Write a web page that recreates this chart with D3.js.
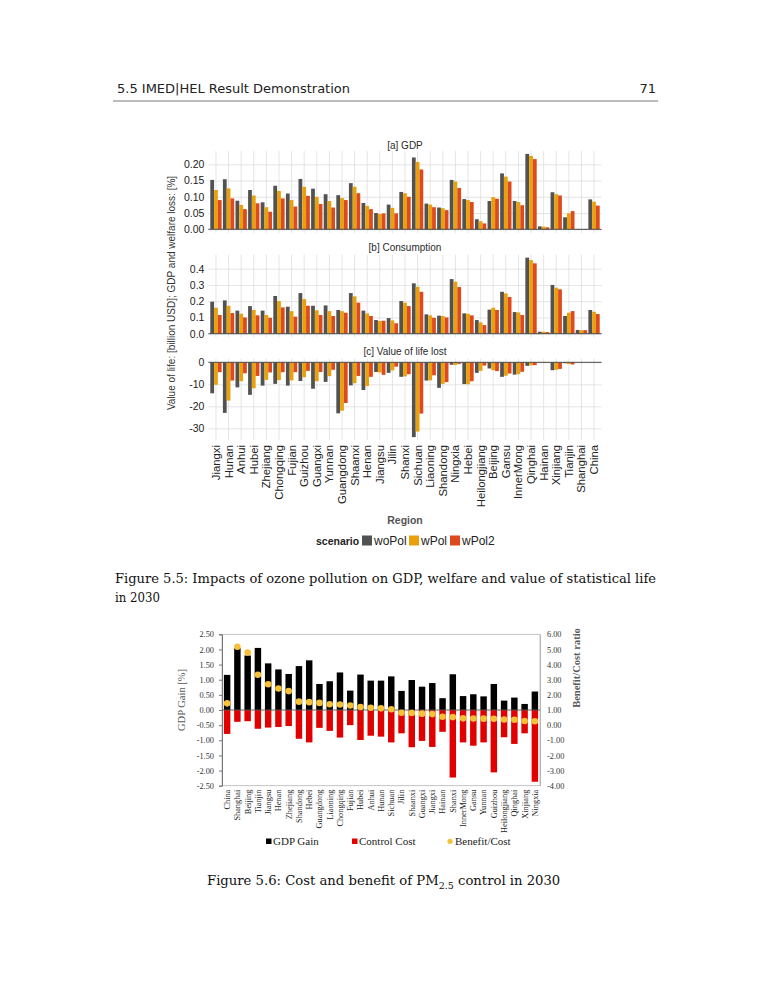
<!DOCTYPE html>
<html lang="en">
<head>
<meta charset="UTF-8">
<title>ozone and pm25 figures</title>
<script src="https://d3js.org/d3.v7.min.js"></script>
<style>
    body{margin:0;background:#fff;}
    svg{display:block;}
</style>
</head>
<body>
<svg id="page" width="773" height="1000"></svg>
<script>
    // ---------- figure 5.5 data (ggplot facets)
    let regions = ["Jiangxi","Hunan","Anhui","Hubei","Zhejiang","Chongqing","Fujian","Guizhou","Guangxi","Yunnan",
        "Guangdong","Shaanxi","Henan","Jiangsu","Jilin","Shanxi","Sichuan","Liaoning","Shandong","Ningxia",
        "Hebei","Heilongjiang","Beijing","Gansu","InnerMong","Qinghai","Hainan","Xinjiang","Tianjin","Shanghai","China"]
    let scenarios = ["woPol","wPol","wPol2"]

    let gdp_woPol  = [0.152,0.154,0.088,0.121,0.083,0.134,0.110,0.155,0.125,0.108,0.105,0.142,0.081,0.050,0.076,0.115,0.221,0.079,0.067,0.152,0.093,0.031,0.087,0.172,0.087,0.232,0.009,0.114,0.037,0.001,0.092]
    let gdp_wPol   = [0.121,0.126,0.075,0.104,0.068,0.118,0.090,0.131,0.100,0.087,0.096,0.131,0.072,0.047,0.066,0.111,0.207,0.076,0.065,0.147,0.090,0.025,0.099,0.162,0.084,0.226,0.008,0.108,0.049,0.001,0.085]
    let gdp_wPol2  = [0.090,0.095,0.062,0.080,0.054,0.095,0.070,0.103,0.078,0.067,0.090,0.111,0.062,0.049,0.049,0.100,0.184,0.068,0.059,0.127,0.084,0.018,0.094,0.147,0.074,0.216,0.006,0.104,0.056,0.001,0.073]

    let cons_woPol = [0.197,0.205,0.142,0.170,0.142,0.232,0.166,0.250,0.172,0.174,0.146,0.250,0.142,0.084,0.096,0.201,0.310,0.119,0.111,0.336,0.125,0.084,0.148,0.258,0.133,0.468,0.012,0.300,0.109,0.023,0.146]
    let cons_wPol  = [0.160,0.172,0.123,0.146,0.115,0.201,0.139,0.213,0.144,0.139,0.139,0.230,0.125,0.078,0.082,0.191,0.289,0.113,0.109,0.320,0.123,0.070,0.160,0.248,0.131,0.453,0.012,0.283,0.129,0.022,0.135]
    let cons_wPol2 = [0.115,0.127,0.100,0.113,0.098,0.162,0.105,0.172,0.115,0.109,0.129,0.191,0.109,0.080,0.064,0.170,0.258,0.098,0.100,0.287,0.113,0.053,0.146,0.226,0.115,0.433,0.010,0.273,0.139,0.022,0.121]

    let vol_woPol  = [-14.1,-23.0,-11.4,-14.8,-10.6,-9.8,-10.6,-8.5,-12.0,-8.9,-23.2,-10.5,-12.6,-4.4,-4.8,-6.6,-34.0,-8.3,-11.6,-1.1,-9.9,-4.8,-2.8,-6.6,-5.6,-1.6,-0.1,-3.6,-0.4,0,0]
    let vol_wPol   = [-10.2,-17.4,-8.6,-11.8,-8.0,-8.1,-8.2,-6.8,-8.6,-6.3,-22.0,-9.5,-10.8,-4.6,-3.7,-6.4,-31.5,-8.2,-9.8,-1.2,-10.0,-3.9,-3.6,-6.1,-5.4,-1.4,-0.1,-3.4,-0.8,0,0]
    let vol_wPol2  = [-4.5,-8.3,-5.0,-6.2,-4.6,-4.5,-4.5,-3.9,-4.4,-3.4,-18.5,-6.2,-6.6,-5.7,-2.0,-5.4,-23.3,-5.9,-9.0,-0.7,-8.6,-1.5,-4.0,-5.1,-4.3,-1.3,-0.1,-3.0,-1.0,0,0]

    // ---------- figure 5.6 data (excel combo chart)
    let regions2 = ["China","Shanghai","Beijing","Tianjin","Jiangsu","Henan","Zhejiang","Shandong","Hebei","Guangdong",
        "Liaoning","Chongqing","Fujian","Hubei","Anhui","Hunan","Sichuan","Jilin","Shaanxi","Guangxi",
        "Jiangxi","Hainan","Shanxi","InnerMong","Gansu","Yunnan","Guizhou","Heilongjiang","Qinghai","Xinjiang","Ningxia"]
    let gdpGain     = [1.16,2.04,1.80,2.05,1.54,1.34,1.19,1.45,1.64,0.86,0.95,1.24,0.64,1.17,0.97,0.97,1.11,0.63,0.99,0.77,0.89,0.39,1.18,0.46,0.52,0.45,0.86,0.31,0.41,0.20,0.61]
    let controlCost = [-0.79,-0.39,-0.37,-0.62,-0.58,-0.56,-0.53,-0.95,-1.07,-0.59,-0.69,-0.91,-0.50,-0.99,-0.85,-0.88,-1.07,-0.77,-1.23,-1.02,-1.22,-0.72,-2.23,-1.07,-1.18,-1.07,-2.06,-0.90,-1.12,-0.77,-2.37]
    let benefitCost = [1.44,5.18,4.80,3.33,2.70,2.42,2.25,1.55,1.52,1.47,1.38,1.36,1.30,1.20,1.15,1.11,1.05,0.82,0.80,0.76,0.73,0.55,0.53,0.45,0.44,0.43,0.42,0.37,0.36,0.27,0.26]

    const svg = d3.select("#page")
    const SANS = "Liberation Sans, Arial, sans-serif"
    const SERIF = "Liberation Serif, Times New Roman, serif"
    const BOOK = "DejaVu Serif, serif"

    // ---------- page header
    svg.append("text").attr("x",117).attr("y",93)
        .attr("font-family","DejaVu Sans").attr("font-size",13).attr("fill","#222")
        .attr("textLength",233).attr("lengthAdjust","spacingAndGlyphs")
        .text("5.5 IMED|HEL Result Demonstration")
    svg.append("text").attr("x",656).attr("y",93).attr("text-anchor","end")
        .attr("font-family","DejaVu Sans").attr("font-size",13).attr("fill","#222").text("71")
    svg.append("line").attr("x1",113).attr("x2",658).attr("y1",101).attr("y2",101)
        .attr("stroke","#555").attr("stroke-width",0.8)

    // ================= figure 5.5 =================
    const L = 208.4, R = 601.6
    let x = d3.scaleBand().domain(regions).range([L, R]).paddingInner(0.1).paddingOuter(0.15)
    let xs = d3.scaleBand().domain(scenarios).range([0, x.bandwidth()])
    let color = d3.scaleOrdinal().domain(scenarios).range(["#525252","#e8a10c","#dc4a1d"])

    let panels = [
        {title:"[a] GDP", series:[gdp_woPol,gdp_wPol,gdp_wPol2], dom:[0,0.2], rng:[229.3,164.3],
            top:151, bottom:233, ticks:[0,0.05,0.1,0.15,0.2], fmt:d=>d.toFixed(2), titleY:145},
        {title:"[b] Consumption", series:[cons_woPol,cons_wPol,cons_wPol2], dom:[0,0.4], rng:[333.7,268.7],
            top:254.5, bottom:337.5, ticks:[0,0.1,0.2,0.3,0.4], fmt:d=>d.toFixed(1), titleY:247},
        {title:"[c] Value of life lost", series:[vol_woPol,vol_wPol,vol_wPol2], dom:[0,-30], rng:[362.3,428.3],
            top:358.5, bottom:440, ticks:[0,-10,-20,-30], fmt:d=>String(d), titleY:351}
    ]

    panels.forEach(function(p){
        let y = d3.scaleLinear().domain(p.dom).range(p.rng)
        let g = svg.append("g")
        // horizontal grid + tick labels
        g.append("g").attr("transform",`translate(${L},0)`)
            .call(d3.axisLeft(y).tickValues(p.ticks).tickSize(-(R-L)).tickPadding(4).tickFormat(p.fmt))
            .call(a=>a.select(".domain").remove())
            .call(a=>a.selectAll("line").attr("stroke","#dadada").attr("stroke-width",0.7))
            .call(a=>a.selectAll("text").attr("font-family",SANS).attr("font-size",10.5).attr("fill","#222"))
        // vertical grid
        g.append("g").attr("transform",`translate(0,${p.bottom})`)
            .call(d3.axisBottom(x).tickSize(-(p.bottom-p.top)).tickFormat(""))
            .call(a=>a.select(".domain").remove())
            .call(a=>a.selectAll("line").attr("stroke","#dadada").attr("stroke-width",0.7))
        // bars
        let rows = regions.flatMap((r,i)=>scenarios.map((s,j)=>({r:r, s:s, v:p.series[j][i]})))
        g.selectAll("rect.bar").data(rows).join("rect").attr("class","bar")
            .attr("x",d=>x(d.r)+xs(d.s))
            .attr("width",xs.bandwidth())
            .attr("y",d=>Math.min(y(d.v),y(0)))
            .attr("height",d=>Math.abs(y(d.v)-y(0)))
            .attr("fill",d=>color(d.s))
        // zero line
        g.append("line").attr("x1",L).attr("x2",R).attr("y1",y(0)).attr("y2",y(0))
            .attr("stroke","#4a4a4a").attr("stroke-width",1)
        // strip title
        g.append("text").attr("x",(L+R)/2).attr("y",p.titleY).attr("dy","0.35em")
            .attr("text-anchor","middle").attr("font-family",SANS).attr("font-size",10)
            .attr("fill","#2a2a2a").text(p.title)
    })

    // region labels
    svg.append("g").attr("transform","translate(0,441)")
        .call(d3.axisBottom(x).tickSize(0).tickPadding(0))
        .call(a=>a.select(".domain").remove())
        .call(a=>a.selectAll("text")
            .attr("transform","rotate(-90)")
            .attr("x",-4).attr("y",0).attr("dy","0.35em")
            .attr("text-anchor","end")
            .attr("font-family",SANS).attr("font-size",11.3).attr("fill","#222"))

    svg.append("text").attr("x",405).attr("y",524).attr("text-anchor","middle")
        .attr("font-family",SANS).attr("font-size",10.5).attr("font-weight","bold").attr("fill","#555")
        .text("Region")

    svg.append("text").attr("transform","translate(175,293) rotate(-90)").attr("text-anchor","middle")
        .attr("font-family",SANS).attr("font-size",10).attr("fill","#333")
        .text("Value of life: [billion USD]; GDP and welfare loss: [%]")

    // legend
    let leg = svg.append("g")
    leg.append("text").attr("x",316).attr("y",544.5).attr("font-family",SANS).attr("font-size",10.5)
        .attr("font-weight","bold").attr("fill","#222").text("scenario")
    let legX = [362, 409, 450]
    leg.selectAll("rect").data(scenarios).join("rect")
        .attr("x",(d,i)=>legX[i]).attr("y",535.5).attr("width",10).attr("height",10)
        .attr("fill",d=>color(d))
    leg.selectAll("text.lab").data(scenarios).join("text").attr("class","lab")
        .attr("x",(d,i)=>legX[i]+12).attr("y",545).attr("font-family",SANS).attr("font-size",12)
        .attr("fill","#222").text(d=>d)

    // caption 5.5
    svg.append("text").attr("x",115).attr("y",583).attr("font-family",BOOK).attr("font-size",13.2)
        .attr("fill","#111").attr("textLength",541).attr("lengthAdjust","spacingAndGlyphs")
        .text("Figure 5.5: Impacts of ozone pollution on GDP, welfare and value of statistical life")
    svg.append("text").attr("x",115).attr("y",602).attr("font-family",BOOK).attr("font-size",13.2)
        .attr("fill","#111").attr("textLength",45).attr("lengthAdjust","spacingAndGlyphs")
        .text("in 2030")

    // ================= figure 5.6 =================
    const L2 = 222, R2 = 540, T2 = 634.3, B2 = 785.7
    let x2 = d3.scaleBand().domain(regions2).range([L2, R2]).paddingInner(0.37).paddingOuter(0.185)
    let yL = d3.scaleLinear().domain([-2.5, 2.5]).range([B2, T2])
    let yR = d3.scaleLinear().domain([-4, 6]).range([B2, T2])
    let g2 = svg.append("g")

    g2.append("rect").attr("x",L2).attr("y",T2).attr("width",R2-L2).attr("height",B2-T2)
        .attr("fill","none").attr("stroke","#b5b5b5").attr("stroke-width",0.8)

    g2.append("g").attr("transform",`translate(${L2},0)`)
        .call(d3.axisLeft(yL).ticks(10).tickSize(3).tickPadding(5).tickFormat(d=>d.toFixed(2)))
        .call(a=>a.selectAll("line,path").attr("stroke","#777"))
        .call(a=>a.selectAll("text").attr("font-family",SERIF).attr("font-size",8.3).attr("fill","#333"))

    g2.append("g").attr("transform",`translate(${R2},0)`)
        .call(d3.axisRight(yR).ticks(10).tickSize(0).tickPadding(7).tickFormat(d=>d.toFixed(2)))
        .call(a=>a.select(".domain").attr("stroke","#b5b5b5"))
        .call(a=>a.selectAll("text").attr("font-family",SERIF).attr("font-size",8.3).attr("fill","#333"))

    g2.selectAll("rect.gain").data(regions2).join("rect").attr("class","gain")
        .attr("x",d=>x2(d)).attr("width",x2.bandwidth())
        .attr("y",(d,i)=>yL(gdpGain[i])).attr("height",(d,i)=>yL(0)-yL(gdpGain[i]))
        .attr("fill","#000")
    g2.selectAll("rect.cost").data(regions2).join("rect").attr("class","cost")
        .attr("x",d=>x2(d)).attr("width",x2.bandwidth())
        .attr("y",yL(0)).attr("height",(d,i)=>yL(controlCost[i])-yL(0))
        .attr("fill","#e00000")

    g2.append("line").attr("x1",L2).attr("x2",R2).attr("y1",yL(0)).attr("y2",yL(0))
        .attr("stroke","#555").attr("stroke-width",0.9)

    g2.selectAll("circle.bc").data(regions2).join("circle").attr("class","bc")
        .attr("cx",d=>x2(d)+x2.bandwidth()/2).attr("cy",(d,i)=>yR(benefitCost[i]))
        .attr("r",3.3).attr("fill","#f6c037")

    g2.append("g").attr("transform",`translate(0,${B2})`)
        .call(d3.axisBottom(x2).tickSize(0).tickPadding(0))
        .call(a=>a.select(".domain").remove())
        .call(a=>a.selectAll("text")
            .attr("transform","rotate(-90)")
            .attr("x",-4).attr("y",0).attr("dy","0.35em")
            .attr("text-anchor","end")
            .attr("font-family",SERIF).attr("font-size",8.3).attr("fill","#222"))

    g2.append("text").attr("transform","translate(185,700) rotate(-90)").attr("text-anchor","middle")
        .attr("font-family",SERIF).attr("font-size",10.5).attr("fill","#595959").text("GDP Gain [%]")
    g2.append("text").attr("transform","translate(580,668) rotate(-90)").attr("text-anchor","middle")
        .attr("font-family",SERIF).attr("font-size",10.5).attr("font-weight","bold").attr("fill","#595959")
        .text("Benefit/Cost ratio")

    // legend
    g2.append("rect").attr("x",266).attr("y",838.5).attr("width",5.5).attr("height",5.5).attr("fill","#000")
    g2.append("text").attr("x",273).attr("y",845).attr("font-family",SERIF).attr("font-size",11).attr("fill","#222").text("GDP Gain")
    g2.append("rect").attr("x",352).attr("y",838.5).attr("width",5.5).attr("height",5.5).attr("fill","#e00000")
    g2.append("text").attr("x",359).attr("y",845).attr("font-family",SERIF).attr("font-size",11).attr("fill","#222").text("Control Cost")
    g2.append("circle").attr("cx",450).attr("cy",841.3).attr("r",2.6).attr("fill","#f6c037")
    g2.append("text").attr("x",455).attr("y",845).attr("font-family",SERIF).attr("font-size",11).attr("fill","#222").text("Benefit/Cost")

    // caption 5.6
    let cap = svg.append("text").attr("x",207).attr("y",885).attr("font-family",BOOK).attr("font-size",13.2)
        .attr("fill","#111")
    cap.append("tspan").text("Figure 5.6: Cost and benefit of PM")
    cap.append("tspan").attr("font-size",9.5).attr("dy",3.5).text("2.5")
    cap.append("tspan").attr("dy",-3.5).text(" control in 2030")
</script>
</body>
</html>
